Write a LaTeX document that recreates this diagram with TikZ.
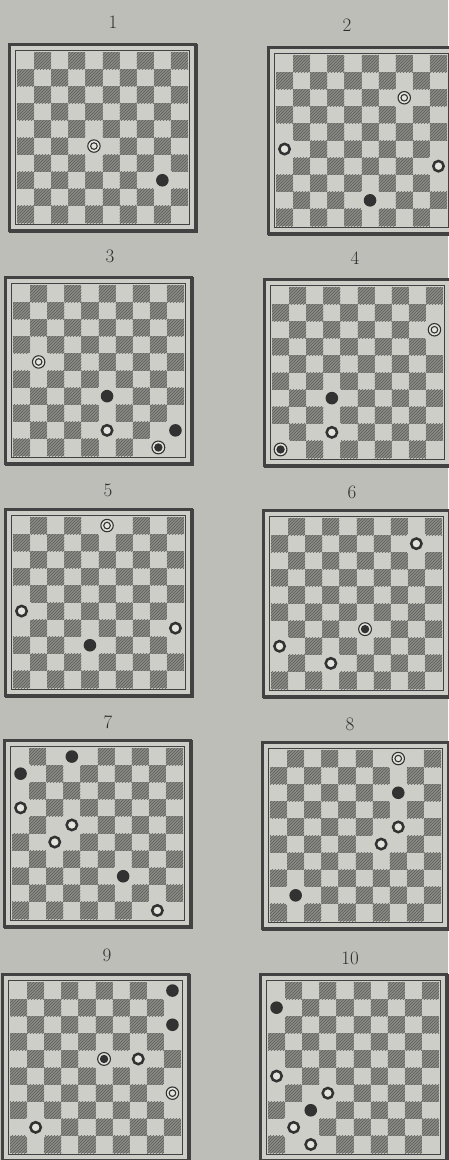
\documentclass[tikz,border=0pt]{standalone}
\usetikzlibrary{patterns}
\definecolor{paper}{RGB}{190,190,184}
\definecolor{lightsq}{RGB}{206,206,200}
\definecolor{darksq}{RGB}{138,138,134}
\definecolor{hatch}{RGB}{92,92,90}
\definecolor{ink}{RGB}{66,66,66}
\definecolor{pieceink}{RGB}{50,50,50}
\definecolor{piecefill}{RGB}{228,228,222}
\tikzset{
 frameouter/.style={draw=ink, line width=3.2pt},
 frameshadow/.style={draw=ink, line width=1.6pt},
 frameinner/.style={draw=ink, line width=0.7pt},
 darkcell/.style={fill=darksq},
 hatchcell/.style={pattern=north east lines, pattern color=hatch},
 numlabel/.style={font=\fontsize{19}{19}\selectfont, text=ink!70!black, inner sep=0pt},
 ringman/.style={draw=pieceink, line width=2.5pt, fill=piecefill},
 ringking/.style={draw=pieceink, line width=1.1pt, fill=piecefill},
 blackdisk/.style={fill=pieceink}
}
\newcommand{\clearcell}[2]{\fill[lightsq] (#1-0.04,#2-0.04) rectangle ++(1.08,1.08);}
\newcommand{\piecewm}[2]{%
 \clearcell{#1}{#2}
 \path[ringman] (#1+0.5,#2+0.5) circle (5.2pt);}
\newcommand{\piecewk}[2]{%
 \clearcell{#1}{#2}
 \path[ringking] (#1+0.5,#2+0.5) circle (6.2pt);
 \draw[pieceink, line width=1.1pt] (#1+0.5,#2+0.5) circle (3.3pt);}
\newcommand{\piecebm}[2]{%
 \clearcell{#1}{#2}
 \path[blackdisk] (#1+0.5,#2+0.5) circle (6.3pt);}
\newcommand{\piecebk}[2]{%
 \clearcell{#1}{#2}
 \path[ringking] (#1+0.5,#2+0.5) circle (6.4pt);
 \path[blackdisk] (#1+0.5,#2+0.5) circle (4.2pt);}
\newcommand{\drawboard}[3]{%
 \begin{scope}[shift={(#1pt,-#2pt)}, x=17.1pt, y=-17.1pt]
  \fill[lightsq] (-0.45,-0.45) rectangle (10.45,10.45);
  \foreach \r in {0,...,9} {
   \foreach \c in {0,...,9} {
     \pgfmathtruncatemacro{\oddcell}{mod(\r+\c,2)}
     \ifnum\oddcell=1
       \fill[darkcell] (\c,\r) rectangle ++(1,1);
       \fill[hatchcell] (\c,\r) rectangle ++(1,1);
     \fi
   }
  }
  \foreach \t/\c/\r in {#3} {\csname piece\t\endcsname{\c}{\r}}
  \draw[frameinner] (-0.1,-0.1) rectangle (10.1,10.1);
  \draw[frameouter] (-0.45,-0.45) rectangle (10.45,10.45);
  \draw[frameshadow] (10.52,-0.45) -- (10.52,10.52) -- (-0.45,10.52);
 \end{scope}}
\begin{document}
\begin{tikzpicture}[x=1pt,y=-1pt]
\useasboundingbox (0,0) rectangle (448,1160);
\fill[paper] (0,0) rectangle (448,1160);
\drawboard{17}{52}{wk/4/5, bm/8/7}
\drawboard{276}{55}{wk/7/2, wm/0/5, wm/9/6, bm/5/8}
\drawboard{13}{285}{wk/1/4, bm/5/6, wm/5/8, bm/9/8, bk/8/9}
\drawboard{272}{287}{wk/9/2, bm/3/6, wm/3/8, bk/0/9}
\drawboard{13}{517}{wk/5/0, wm/0/5, wm/9/6, bm/4/7}
\drawboard{271}{518}{wm/8/1, bk/5/6, wm/0/7, wm/3/8}
\drawboard{12}{748}{bm/3/0, bm/0/1, wm/0/3, wm/3/4, wm/2/5, bm/6/7, wm/8/9}
\drawboard{270}{750}{wk/7/0, bm/7/2, wm/7/4, wm/6/5, bm/1/8}
\drawboard{10}{982}{bm/9/0, bm/9/2, bk/5/4, wm/7/4, wk/9/6, wm/1/8}
\drawboard{268}{982}{bm/0/1, wm/0/5, wm/3/6, bm/2/7, wm/1/8, wm/2/9}
\node[numlabel] (n1) at (113,22) {1};
\node[numlabel] (n2) at (347,25) {2};
\node[numlabel] (n3) at (110,256) {3};
\node[numlabel] (n4) at (355,258) {4};
\node[numlabel] (n5) at (108,490) {5};
\node[numlabel] (n6) at (352,492) {6};
\node[numlabel] (n7) at (108,722) {7};
\node[numlabel] (n8) at (350,724) {8};
\node[numlabel] (n9) at (107,955) {9};
\node[numlabel] (n10) at (350,958) {10};
\end{tikzpicture}
\end{document}
